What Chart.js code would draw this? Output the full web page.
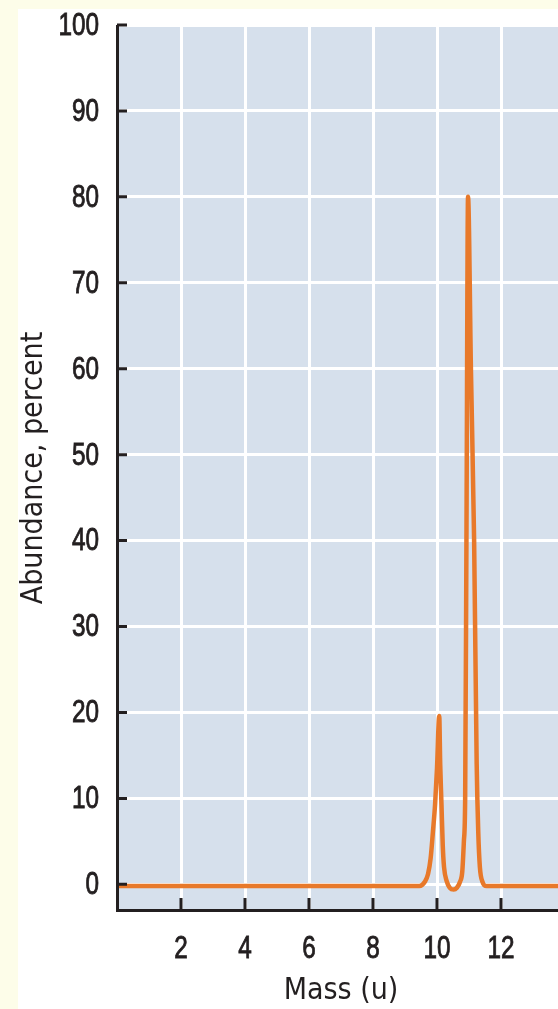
<!DOCTYPE html>
<html>
<head>
<meta charset="utf-8">
<script src="https://cdn.jsdelivr.net/npm/chart.js@4"></script>
<style>
  html, body { margin: 0; padding: 0; overflow: hidden; background: #fdfde9; }
  #wrap { width: 565px; height: 1009px; }
</style>
</head>
<body>
<div id="wrap"><canvas id="myChart" width="565" height="1009"></canvas></div>
<script>
// mass spectrum of boron
var massValues = [0, 9.45, 9.62, 9.72, 9.80, 9.87, 9.94, 10.0, 10.07, 10.10, 10.14, 10.18, 10.22, 10.30, 10.40, 10.52, 10.62, 10.72, 10.79, 10.84, 10.88, 10.92, 10.97, 11.06, 11.16, 11.24, 11.29, 11.34, 11.42, 11.55, 14];
var abundanceValues = [-0.2, -0.2, 0.3, 1.2, 3, 6, 9.3, 13.5, 19.6, 14, 9.3, 4.5, 2, 0.4, -0.4, -0.6, -0.4, 0.3, 1.5, 5, 10, 40, 80, 60, 40, 14, 6, 2, 0.3, -0.2, -0.2];
var xTicks = [2, 4, 6, 8, 10, 12];
var yTicks = [0, 10, 20, 30, 40, 50, 60, 70, 80, 90, 100];

var titleFont = "'DejaVu Sans Condensed', sans-serif";
var ink = '#231f20';

var points = [];
for (var i = 0; i < massValues.length; i++) {
  points.push({x: massValues[i], y: abundanceValues[i]});
}

// condensed label text, the narrow font is not installed
function narrowText(c, txt, x, y, align) {
  c.save();
  c.translate(x, y);
  c.scale(0.76, 1);
  c.textAlign = align;
  c.textBaseline = 'middle';
  c.fillText(txt, 0, 0);
  c.lineWidth = 0.9;
  c.strokeText(txt, 0, 0);
  c.restore();
}

var backdrop = {
  id: 'backdrop',
  beforeDraw: function(chart) {
    var c = chart.ctx, a = chart.chartArea;
    c.save();
    c.fillStyle = '#fdfde9';
    c.fillRect(0, 0, chart.width, chart.height);
    c.fillStyle = '#ffffff';
    c.fillRect(18, 9, chart.width - 18, chart.height - 9);
    c.fillStyle = '#d6e0ec';
    c.fillRect(a.left, a.top, a.right - a.left, a.bottom - a.top);
    c.restore();
  },
  afterDatasetsDraw: function(chart) {
    var c = chart.ctx, a = chart.chartArea;
    var xs = chart.scales.x, ys = chart.scales.y;
    c.save();
    c.strokeStyle = ink;
    c.lineWidth = 3;
    c.beginPath();
    c.moveTo(a.left + 0.5, a.top);
    c.lineTo(a.left + 0.5, a.bottom - 0.5);
    c.lineTo(a.right, a.bottom - 0.5);
    c.stroke();
    c.beginPath();
    ys.ticks.forEach(function(t) {
      var py = ys.getPixelForValue(t.value);
      c.moveTo(a.left, py);
      c.lineTo(a.left + 10, py);
    });
    xs.ticks.forEach(function(t) {
      var px = xs.getPixelForValue(t.value);
      c.moveTo(px, a.bottom);
      c.lineTo(px, a.bottom - 13);
    });
    c.stroke();

    c.fillStyle = ink;
    c.font = "32px 'Liberation Sans', Arial, sans-serif";
    ys.ticks.forEach(function(t) {
      narrowText(c, String(t.value), a.left - 18, ys.getPixelForValue(t.value) + 1, 'right');
    });
    xs.ticks.forEach(function(t) {
      narrowText(c, String(t.value), xs.getPixelForValue(t.value), a.bottom + 38, 'center');
    });
    c.restore();
  }
};

var ctx = document.getElementById('myChart').getContext('2d');
var myChart = new Chart(ctx, {
  type: 'line',
  data: {
    datasets: [{
      data: points,
      borderColor: '#e8792a',
      borderWidth: 4.5,
      pointRadius: 0,
      fill: false,
      cubicInterpolationMode: 'monotone'
    }]
  },
  options: {
    responsive: false,
    devicePixelRatio: 1,
    animation: false,
    layout: { padding: { top: 25, left: 0, right: 0, bottom: 0 } },
    plugins: { legend: { display: false }, tooltip: { enabled: false } },
    scales: {
      x: {
        type: 'linear',
        min: 0,
        max: 14,
        afterBuildTicks: function(scale) {
          scale.ticks = xTicks.map(function(v) { return {value: v}; });
        },
        afterFit: function(scale) { scale.height = 98; },
        border: { display: false },
        grid: { color: '#ffffff', lineWidth: 3, drawTicks: false },
        ticks: { display: false },
        title: { display: true, text: 'Mass (u)', color: ink, font: { family: titleFont, size: 30 }, padding: { top: 0, bottom: 0 } }
      },
      y: {
        min: -3.1,
        max: 100,
        afterBuildTicks: function(scale) {
          scale.ticks = yTicks.map(function(v) { return {value: v}; });
        },
        afterFit: function(scale) { scale.width = 117; },
        border: { display: false },
        grid: { color: '#ffffff', lineWidth: 3, drawTicks: false },
        ticks: { display: false },
        title: { display: true, text: 'Abundance, percent', color: ink, font: { family: titleFont, size: 30 }, padding: { top: 16, bottom: 0 } }
      }
    }
  },
  plugins: [backdrop]
});
</script>
</body>
</html>
